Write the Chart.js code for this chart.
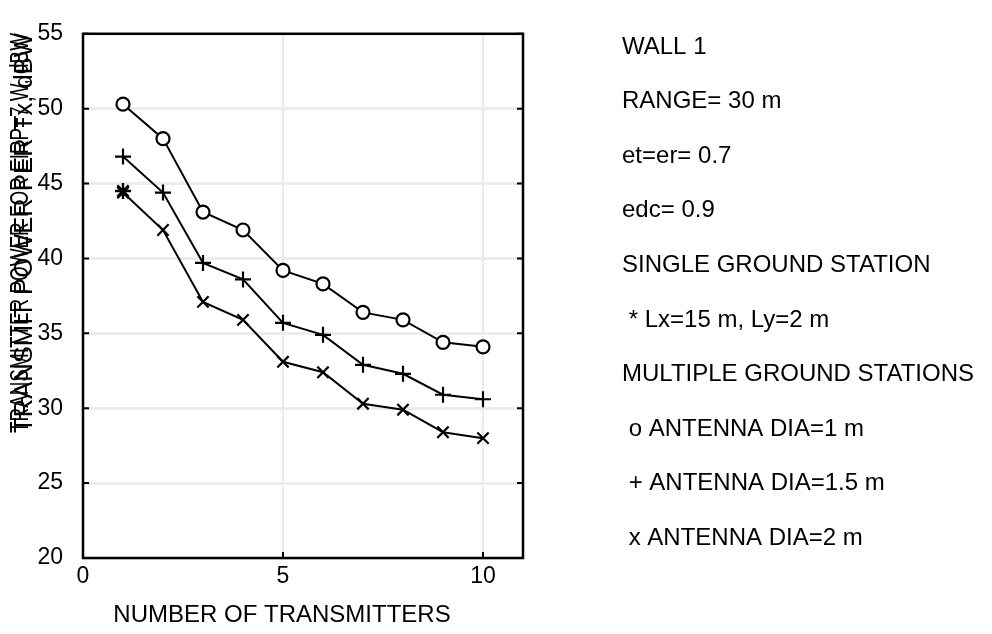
<!DOCTYPE html>
<html>
<head>
<meta charset="utf-8">
<script src="https://cdn.jsdelivr.net/npm/chart.js@4.4.1/dist/chart.umd.min.js"></script>
<style>
    html, body { margin: 0; padding: 0; background: #fff; }
    #wrap { width: 992px; height: 634px; position: relative; }
</style>
</head>
<body>
<div id="wrap"><canvas id="powerChart"></canvas></div>
<script>
// number of transmitters on the x axis
const transmitters = [1, 2, 3, 4, 5, 6, 7, 8, 9, 10];
// transmit power (dBW) per antenna diameter
const dia1m = [50.3, 48.0, 43.1, 41.9, 39.2, 38.3, 36.4, 35.9, 34.4, 34.1];
const dia15m = [46.8, 44.4, 39.7, 38.6, 35.7, 34.9, 32.9, 32.3, 30.9, 30.6];
const dia2m = [44.4, 41.9, 37.1, 35.9, 33.1, 32.4, 30.3, 29.9, 28.4, 28.0];
// single ground station point
const singleX = [1];
const singleVal = [44.5];

const xTicks = [0, 5, 10];
const yTicks = [20, 25, 30, 35, 40, 45, 50, 55];

const notes = [
    'WALL 1',
    'RANGE= 30 m',
    'et=er= 0.7',
    'edc= 0.9',
    'SINGLE GROUND STATION',
    ' * Lx=15 m, Ly=2 m',
    'MULTIPLE GROUND STATIONS',
    ' o ANTENNA DIA=1 m',
    ' + ANTENNA DIA=1.5 m',
    ' x ANTENNA DIA=2 m'
];

// the y title was printed twice on top of itself in the original
const yTitles = ['TRANSMIT POWER PER Tx, dBW', 'TRANSMITTER POWER FOR EIRP=7 W, dBW'];

const FONT = "'Liberation Sans', Arial, sans-serif";

const toPoints = (xs, ys) => xs.map((x, i) => ({ x: x, y: ys[i] }));

const lineSet = (label, values, style, radius) => ({
    label: label,
    data: toPoints(transmitters, values),
    showLine: true,
    borderColor: '#000',
    borderWidth: 2,
    pointStyle: style,
    pointRadius: radius,
    pointBorderWidth: 2.2,
    pointBackgroundColor: '#fff',
    pointBorderColor: '#000'
});

// frame, inward ticks, titles and the notes column
const decorations = {
    id: 'decorations',
    afterDraw(chart) {
        const ctx = chart.ctx;
        const area = chart.chartArea;
        const xs = chart.scales.x;
        const ys = chart.scales.y;
        ctx.save();

        ctx.strokeStyle = '#000';
        ctx.lineWidth = 2.5;
        ctx.strokeRect(area.left, area.top, area.right - area.left, area.bottom - area.top);

        ctx.lineWidth = 2;
        ctx.beginPath();
        yTicks.forEach(v => {
            const y = ys.getPixelForValue(v);
            ctx.moveTo(area.left, y); ctx.lineTo(area.left + 6, y);
            ctx.moveTo(area.right, y); ctx.lineTo(area.right - 6, y);
        });
        xTicks.forEach(v => {
            const x = xs.getPixelForValue(v);
            ctx.moveTo(x, area.bottom); ctx.lineTo(x, area.bottom - 6);
        });
        ctx.stroke();

        ctx.fillStyle = '#000';
        ctx.font = '24px ' + FONT;
        ctx.textAlign = 'center';
        ctx.textBaseline = 'middle';
        ctx.fillText('NUMBER OF TRANSMITTERS', 282, 615);

        ctx.font = '25px ' + FONT;
        yTitles.forEach((t, i) => {
            const w = ctx.measureText(t).width;
            ctx.save();
            ctx.translate(23, 433);
            ctx.rotate(-Math.PI / 2);
            ctx.scale(400 / w, 1);
            ctx.textAlign = 'left';
            ctx.fillText(t, 0, i === 0 ? 2 : -2);
            ctx.restore();
        });

        ctx.font = '24px ' + FONT;
        ctx.textAlign = 'left';
        notes.forEach((t, i) => {
            ctx.fillText(t, 622, 47 + i * 54.6);
        });
        ctx.restore();
    }
};

new Chart(document.getElementById('powerChart'), {
    type: 'scatter',
    data: {
        datasets: [
            lineSet('o ANTENNA DIA=1 m', dia1m, 'circle', 6.5),
            lineSet('+ ANTENNA DIA=1.5 m', dia15m, 'cross', 8),
            lineSet('x ANTENNA DIA=2 m', dia2m, 'crossRot', 8),
            {
                label: '* Lx=15 m, Ly=2 m',
                data: toPoints(singleX, singleVal),
                showLine: false,
                pointStyle: 'star',
                pointRadius: 8,
                pointBorderWidth: 2.4,
                pointBorderColor: '#000'
            }
        ]
    },
    options: {
        responsive: true,
        maintainAspectRatio: false,
        animation: false,
        layout: { padding: { top: 10, right: 469, bottom: 0, left: 0 } },
        plugins: {
            legend: { display: false },
            tooltip: { enabled: false }
        },
        scales: {
            x: {
                type: 'linear',
                min: 0,
                max: 11,
                afterBuildTicks: axis => { axis.ticks = xTicks.map(v => ({ value: v })); },
                afterFit: axis => { axis.height = 76; },
                border: { display: false, dash: [1, 1] },
                grid: {
                    drawTicks: false,
                    color: ctx => (ctx.tick && ctx.tick.value > 0) ? '#d8d8d8' : 'rgba(0,0,0,0)',
                    lineWidth: 2
                },
                ticks: {
                    padding: 5,
                    color: '#000',
                    font: { family: FONT, size: 23 }
                }
            },
            y: {
                min: 20,
                max: 55,
                afterBuildTicks: axis => { axis.ticks = yTicks.map(v => ({ value: v })); },
                afterFit: axis => { axis.width = 83; },
                border: { display: false },
                grid: {
                    drawTicks: false,
                    color: '#ececec',
                    lineWidth: 3
                },
                ticks: {
                    padding: 20,
                    color: '#000',
                    font: { family: FONT, size: 23 }
                }
            }
        }
    },
    plugins: [decorations]
});
</script>
</body>
</html>
